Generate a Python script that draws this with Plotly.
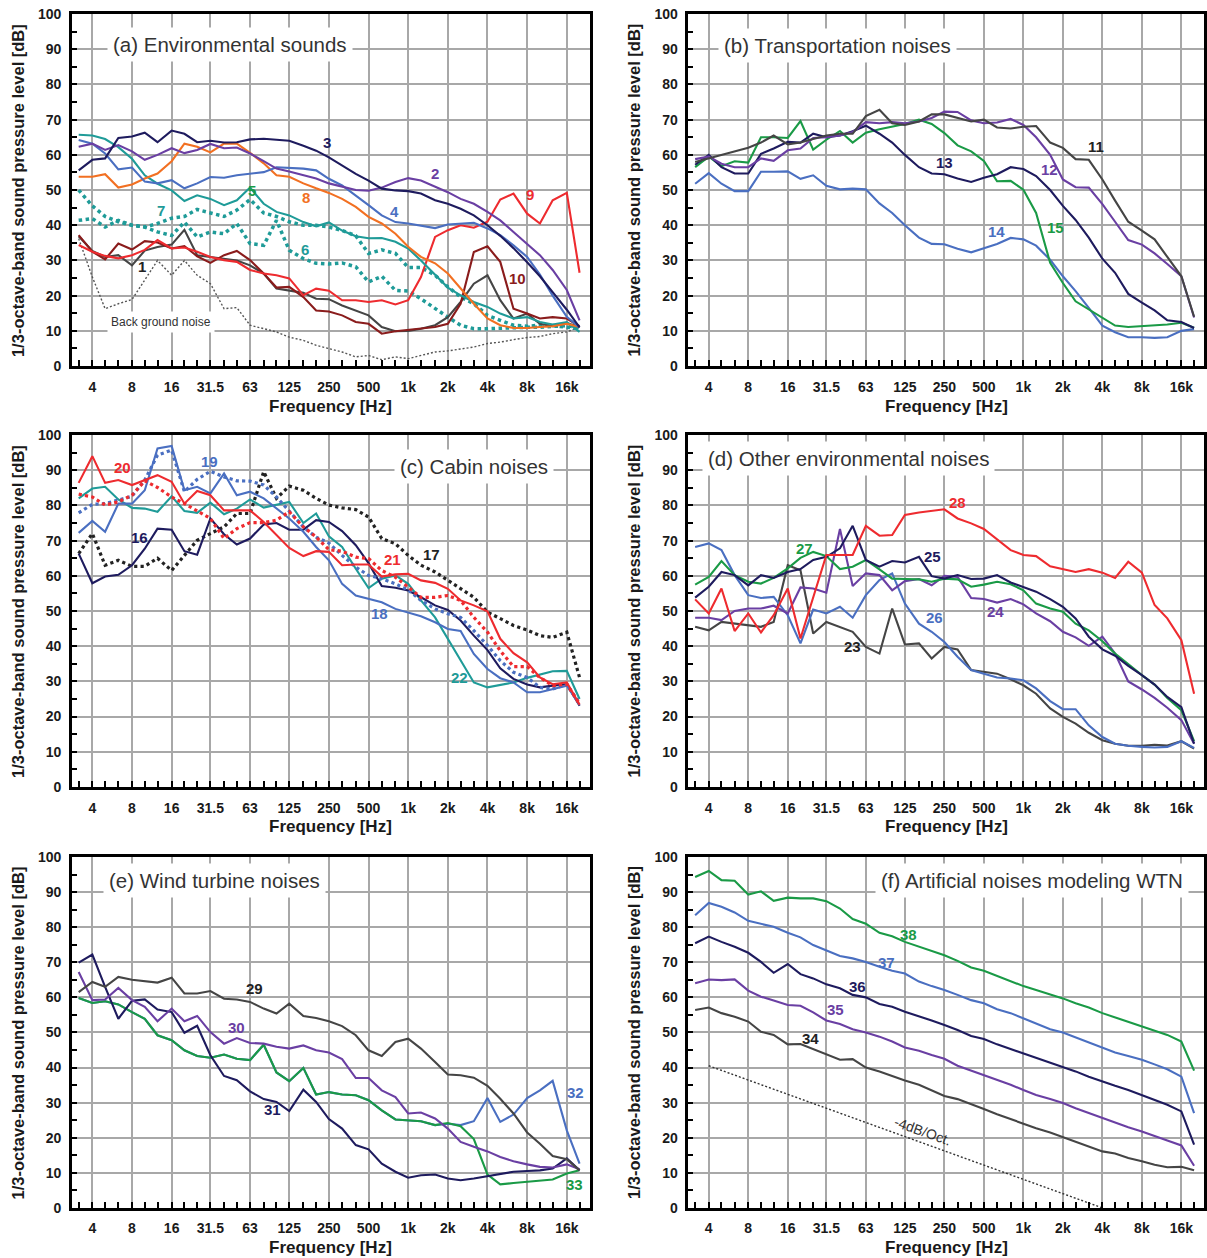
import numpy as np
import plotly.graph_objects as go

# ---------------- data ----------------
FREQ = [3.15, 4, 5, 6.3, 8, 10, 12.5, 16, 20, 25, 31.5, 40, 50, 63, 80, 100, 125, 160, 200, 250,
        315, 400, 500, 630, 800, 1000, 1250, 1600, 2000, 2500, 3150, 4000, 5000, 6300, 8000,
        10000, 12500, 16000, 20000]
TICK_VALS = [4, 8, 16, 31.5, 63, 125, 250, 500, 1000, 2000, 4000, 8000, 16000]
TICK_TEXT = ['4', '8', '16', '31.5', '63', '125', '250', '500', '1k', '2k', '4k', '8k', '16k']

# (a) Environmental sounds
BG = [36.2, 25.3, 16.3, 17.7, 18.9, 24.4, 30, 25.8, 30, 25.8, 23.4, 16.3, 16.6, 11.6, 10.6, 9.7, 8.2, 7.3, 5.9, 4.9,
      4, 2.6, 3, 1.8, 2.6, 2.1, 3, 4, 4.3, 4.9, 5.4, 6.4, 6.8, 7.5, 8.1, 8.4, 9.2, 9.7, 11.1]
S01 = [36.9, 32.7, 31, 31.5, 28.6, 32.8, 33.8, 34.5, 38.7, 31.5, 31, 30.5, 30, 28.6, 26.3, 22, 21.5, 20.8, 19.1, 19,
       17.2, 15.8, 14.4, 11.1, 9.9, 10, 10.6, 11.6, 13.9, 18.2, 23.4, 25.8, 18.7, 13.5, 14.9, 12, 11.3, 12.2, 11.1]
S02 = [62.3, 63.2, 61.4, 62.8, 61, 58.6, 60, 61.9, 60.5, 61.4, 63.1, 61.9, 62.1, 60.4, 58.2, 56.1, 55.3, 54.3, 53.3, 51.9,
       51, 50, 49.8, 50.7, 52.3, 53.4, 52.7, 51, 49.4, 47.5, 46.1, 43.8, 41.4, 38.1, 34.8, 31.5, 27.3, 21.6, 13]
S03 = [55.6, 58.6, 59, 64.8, 65.2, 66.3, 63.6, 66.9, 66, 63.6, 64, 63.5, 63.6, 64.4, 64.6, 64.4, 64, 62.6, 61.2, 59.3,
       57, 54.6, 52.7, 50.4, 49.9, 49.7, 49, 47.1, 46.1, 44.7, 42.8, 40, 37, 33.5, 29.5, 25.5, 21, 16, 11]
S04 = [64.2, 63.2, 60.4, 55.9, 56.4, 52.4, 51.9, 52.8, 50.5, 51.9, 53.7, 53.5, 54.2, 54.7, 55.1, 56.5, 56.3, 56.1, 55.6, 53.2,
       51.3, 48.5, 45.7, 42.8, 40.9, 40.5, 39.8, 39.2, 40.2, 40.5, 40.7, 39.1, 37.2, 34.3, 31, 26, 20, 14, 11]
S05 = [65.7, 65.5, 64.5, 62.2, 58.9, 54.2, 51.8, 49.9, 46.9, 48.5, 47.5, 45.7, 47.1, 50.7, 46.1, 43.8, 42.8, 40.9, 39.7, 40.8,
       38.5, 36.9, 36.3, 36.4, 35.3, 33.4, 30, 25.8, 22.3, 20.1, 18.2, 16.8, 14.9, 13.5, 13.9, 12.5, 11.8, 12.5, 9.7]
S06 = [41.4, 41.9, 39.5, 41.4, 40, 39.5, 38.1, 37.1, 40.9, 36.7, 38.1, 37.6, 40.5, 34.8, 34.3, 41.4, 32.9, 30.5, 29.2, 29,
       29.3, 28.2, 23.9, 25.5, 21.5, 21.3, 19.1, 16.3, 13.9, 11.6, 10.6, 10.6, 10.8, 10.8, 11, 11, 11.3, 11.5, 10.8]
S07 = [50, 45.5, 42.5, 41, 40, 39.5, 40.5, 42, 42.5, 44.5, 43.5, 42.5, 44.3, 47.3, 43.5, 42.5, 41, 40, 40, 39.5,
       38.5, 37, 32, 33, 32, 28, 28, 25.8, 22.5, 19.6, 17.7, 14.4, 13, 11.6, 11.3, 11.6, 11.5, 11, 10.6]
S08 = [53.8, 53.8, 54.5, 50.7, 51.6, 53.3, 54.7, 58.2, 63.2, 62.3, 60.7, 63.2, 63.2, 60.6, 57.6, 54.2, 53.8, 51.9, 50.5, 49.2,
       47.5, 45.2, 42.4, 40.5, 37.6, 33.9, 31, 29.2, 26.3, 22, 17.7, 13.5, 11.6, 10.8, 10.8, 11.1, 11.3, 12, 11.1]
S09 = [34.4, 32.5, 31.3, 30.6, 31.5, 33, 35.8, 33.4, 33.7, 32.5, 31, 30.1, 29.6, 27.3, 26.3, 25.8, 24.9, 20.1, 22, 21.4,
       18.7, 18.7, 18.2, 18.7, 17.5, 18.7, 25.3, 36.7, 38.6, 40, 39.3, 41, 47.3, 49, 43.3, 40.5, 47.1, 49.2, 26.5]
S10 = [37.2, 32.5, 30.3, 34.8, 33.1, 35.5, 35.1, 33.4, 34.1, 31.2, 29.3, 31.5, 32.7, 30.1, 26.3, 22.3, 22.5, 19.6, 15.8, 15.5,
       14.4, 12.5, 12, 9.2, 9.9, 10.3, 10.6, 11.1, 12, 17.7, 32.4, 34, 29.6, 16.3, 14.9, 13.5, 13.9, 13.5, 11.3]

# (b) Transportation noises
S11 = [58, 59, 60, 61, 62, 63.5, 65.5, 63, 63.5, 64.5, 65.5, 66, 66, 71, 72.8, 69, 68.5, 69.5, 71.5, 71.5,
       70.5, 69.5, 70, 67.8, 67.5, 68, 68.2, 63.5, 62, 58.8, 58.6, 53, 47, 41, 38.5, 36, 31, 25.5, 14]
S12 = [58.8, 59.5, 57.5, 56.5, 56.5, 59, 58.3, 61.3, 61.8, 64.8, 65, 65.5, 66.5, 69.3, 69, 69.3, 69, 69.5, 70.5, 72.3,
       72.2, 69.8, 69, 69.2, 70.2, 68.5, 65, 60, 53, 50.8, 50.7, 46, 41, 35.8, 34.5, 32, 29, 25.5, 13.8]
S13 = [57.2, 60, 56.5, 54.7, 54.7, 60.3, 61.8, 63.7, 63.5, 66, 65, 65.5, 66.7, 68.3, 66, 63.5, 60, 56.5, 54.7, 54.5,
       53.3, 52.3, 53.5, 54.5, 56.5, 56, 54, 50, 45.5, 41.5, 36.5, 30.5, 26.5, 20.5, 18, 15.8, 13, 12.5, 10.8]
S14 = [51.8, 54.8, 51.8, 49.7, 49.7, 55.2, 55.2, 55.3, 53.2, 54.2, 51.2, 50.2, 50.4, 50.2, 46.2, 43.5, 40, 36.5, 34.7, 34.6,
       33.3, 32.3, 33.5, 34.7, 36.4, 36, 34.2, 30.2, 25.5, 21.3, 16.5, 11.5, 9.6, 8.2, 8.2, 8, 8.2, 10, 10.5]
S15 = [56.5, 59.5, 56.8, 58.2, 57.8, 65, 65, 64.8, 69.6, 61.5, 64.3, 66.8, 63.5, 66.3, 67.3, 68, 68.8, 70, 68.8, 66.2,
       62.7, 61, 58.3, 52.5, 52.6, 50.1, 43.5, 29.3, 23.6, 18.4, 16.1, 13.7, 11.5, 11.1, 11.3, 11.5, 11.8, 12.3, 10.9]

# (c) Cabin noises
S16 = [66.3, 57.9, 59.8, 60.3, 63, 67.7, 73.4, 73.1, 67, 66, 76.3, 71.8, 68.9, 70.6, 74.6, 75, 73.1, 73.1, 75.8, 75.3,
       72.7, 68.7, 63.6, 57.1, 56.6, 55.8, 53.9, 51.6, 50.3, 47.3, 43, 38.9, 33.7, 30.7, 29.1, 28.3, 28.8, 29.2, 23.1]
S17 = [66.3, 72, 63, 64.4, 62.7, 62.7, 65, 61.5, 65.8, 70.1, 72, 73.9, 77.7, 77.7, 89.6, 82, 85.5, 84.3, 82, 80.1,
       79.3, 78.8, 76.7, 70.6, 69.1, 65.8, 63, 61.1, 58.7, 56.3, 53.9, 49.7, 47.8, 45.9, 44.6, 43, 42.5, 44, 31.1]
S18 = [72.2, 75.6, 72.5, 80.5, 80.5, 84.3, 96.2, 96.9, 84.3, 85.3, 83.4, 89.1, 82.9, 83.9, 82, 79.1, 76.3, 72.5, 68.2, 64.4,
       57.7, 54.4, 53.5, 52.5, 50.6, 49.5, 48.5, 46.8, 44.9, 44.3, 37.8, 33.5, 30.9, 29.7, 26.9, 26.9, 27.8, 28.8, 23.3]
S19 = [77.9, 80.3, 80.5, 81.5, 82.6, 87.2, 94.3, 95.7, 83.9, 87.4, 89.7, 88.1, 87, 86.9, 85.8, 82.4, 78.2, 73.9, 71, 69.3,
       65.8, 62.5, 60.1, 59.2, 57.7, 56, 53, 50.6, 49.2, 48.2, 44.4, 40.2, 35.9, 32.6, 31.1, 28.3, 27.8, 29.2, 23.7]
S20 = [86.4, 94, 86.4, 87.2, 85.8, 87.2, 88.6, 86.7, 80.5, 84.1, 82.9, 78.6, 78.6, 78.6, 75.3, 71.5, 67.9, 65.6, 67, 66.8,
       63, 63.2, 63.2, 59.8, 60.4, 60.6, 58.7, 58, 56.3, 53, 51.6, 49.9, 42.1, 38, 35.4, 31.1, 29.2, 29.7, 23.4]
S21 = [83.2, 82.4, 80.1, 81, 82.9, 87, 85.1, 82.4, 80.5, 78.4, 76.3, 70.6, 73.4, 75.1, 75.1, 75.8, 78.2, 73.9, 71, 67.4,
       67, 65.3, 64.9, 61.5, 59.6, 56.8, 53.9, 53.9, 54.4, 53, 48.2, 44, 38.7, 34.2, 34.2, 31.1, 28.8, 29.2, 23.6]
S22 = [82, 84.8, 85.3, 81.7, 79.3, 79.1, 78.2, 82.6, 78.4, 77.9, 80.8, 77.5, 79.1, 81.7, 79.4, 80.1, 81, 75, 77.7, 71.2,
       68.2, 62, 56.5, 59.2, 60.1, 57.7, 53, 48.2, 42.1, 35.9, 29.7, 28.3, 29, 29.7, 31, 31.9, 32.9, 33, 25]

# (d) Other environmental noises
S23 = [45.5, 44.5, 46.9, 46.4, 46, 45.5, 46.9, 63, 61.6, 43.6, 46.9, 45.5, 44.1, 39.8, 37.9, 50.7, 40.5, 40.8, 36.5, 39.8,
       39.1, 33.2, 32.7, 32.2, 30.6, 28.9, 26.5, 22.3, 19.9, 18, 15.4, 13.3, 12.3, 11.7, 11.7, 12, 11.8, 13, 10.9]
S24 = [48.1, 48.1, 47.4, 50, 50.7, 50.7, 51.5, 49.3, 56.7, 56.4, 55.2, 73.3, 57.1, 60.7, 60.2, 55.9, 58.5, 59.1, 57.3, 60,
       59.7, 53.7, 53.4, 52.4, 53.4, 51.9, 49.3, 47.1, 44.1, 42.5, 40.1, 42.7, 37.9, 30, 27.7, 25.3, 22.5, 19, 12.3]
S25 = [53.8, 56.9, 61.1, 60.2, 57.3, 60.2, 59.4, 61.1, 61.9, 64.5, 65.4, 67.8, 74.2, 64.5, 62.6, 64.2, 63.8, 65.4, 59.9, 59.2,
       60.2, 59.1, 59.2, 60.2, 58.1, 56.9, 55.5, 53.4, 51.2, 47.9, 42.7, 39.1, 37.3, 34.4, 31.8, 29.1, 25.6, 22.7, 12.3]
S26 = [68.2, 69.2, 67.3, 60.2, 54.5, 53.7, 54, 48.8, 40.8, 50.4, 49.3, 51.2, 48.1, 54.5, 58.8, 60.7, 52.1, 46.4, 44.1, 41.2,
       37, 33.2, 32.2, 31.1, 30.8, 30.3, 28, 24.4, 22.1, 22.1, 17.5, 14.2, 12.3, 11.7, 11.4, 11.2, 11.4, 13, 11.1]
S27 = [57.5, 59.7, 64.2, 60.2, 58.3, 57.8, 59.4, 62.1, 65.1, 66.8, 65.6, 61.9, 62.6, 64.5, 61.8, 59.2, 59.1, 59, 58.3, 59.2,
       59, 56.9, 57.5, 58.3, 57.6, 55.9, 52.1, 50.7, 49.8, 46.4, 44.5, 41.4, 37.9, 34.8, 31.8, 29.1, 25.3, 21.8, 13]
S28 = [53.3, 49.3, 56.4, 44.3, 49.3, 43.9, 48.8, 56.4, 42.2, 54, 65.9, 65.9, 65.9, 74.2, 71.4, 71.6, 77.3, 78, 78.5, 78.9,
       76.3, 74.9, 73.3, 70.3, 67.3, 65.9, 65.6, 62.7, 61.8, 61.1, 61.9, 60.9, 59.4, 64, 60.9, 51.7, 47.9, 41.7, 26.5]

# (e) Wind turbine noises
S29 = [61.5, 64.4, 63, 65.8, 65, 64.6, 64.2, 65.6, 61.1, 61.1, 61.8, 59.6, 59.4, 58.7, 56.8, 55.4, 58.2, 54.7, 54.1, 53.2,
       51.8, 49.2, 44.9, 43.3, 47.3, 48.2, 45.4, 41.6, 38, 37.8, 37.1, 34.8, 31.1, 26.9, 21.5, 18.3, 14.8, 13.9, 10.7]
S30 = [67.2, 59.2, 59.4, 62.7, 59.2, 57.3, 53.2, 56.8, 53.2, 54.7, 50.1, 46.8, 48.4, 47, 46.8, 45.9, 45.4, 46.3, 44.9, 44.3,
       42.4, 37, 37, 33.5, 31.6, 26.9, 27.2, 25.5, 22.6, 18.8, 17.4, 16.1, 14.5, 13.3, 12.4, 11.7, 11.5, 12.4, 11]
S31 = [69.9, 72.2, 63, 53.9, 59, 59.4, 56.5, 55.8, 49.9, 51.9, 43.5, 37.6, 36.4, 33.2, 31, 30.2, 27.6, 33.7, 30.2, 25.3,
       22.6, 17.9, 16.7, 12.6, 10.3, 8.6, 9.3, 9.5, 8.4, 7.9, 8.4, 9.1, 9.6, 10.3, 10.5, 10.7, 11.2, 14.1, 10.7]
S32 = [59.8, 58.4, 58.9, 58, 55.8, 53.9, 49.2, 47.8, 44.9, 43.3, 42.8, 43.7, 42.5, 42.1, 46.5, 38.6, 36.1, 39.9, 32.3, 33,
       32.3, 32.1, 30.7, 27.8, 25.2, 24.9, 24.7, 23.6, 24, 23.6, 24.7, 31.3, 24.5, 26.6, 31.3, 33.5, 36.2, 22.1, 12.6]
S33 = [59.8, 58.4, 58.9, 58, 55.8, 53.9, 49.2, 47.8, 44.9, 43.3, 42.8, 43.7, 42.5, 42.1, 46.5, 38.6, 36.1, 39.9, 32.3, 33,
       32.3, 32.1, 30.7, 27.8, 25.2, 24.9, 24.7, 23.6, 24.2, 23.3, 19.6, 9.5, 6.7, 7.1, 7.4, 7.7, 8.1, 9.8, 10.7]

# (f) Artificial noises modeling WTN
S34 = [56.4, 57.1, 55.5, 54.5, 53.1, 50.2, 49.3, 46.6, 46.7, 45.2, 43.6, 42.2, 42.4, 40, 38.9, 37.6, 36.3, 35.1, 33.5, 31.9,
       31, 29.6, 28.2, 26.7, 25.3, 24.2, 22.7, 21.5, 20.2, 18.8, 17.5, 16.1, 15.5, 14.2, 13.3, 12.3, 11.6, 11.7, 10.7]
S35 = [64, 65.1, 64.9, 65.1, 61.9, 60.2, 59.1, 57.8, 57.6, 55.7, 53.4, 52.4, 50.9, 50, 48.8, 47.4, 45.7, 44.8, 43.6, 42.5,
       40.5, 39.1, 37.9, 36.5, 35.1, 33.6, 32.2, 31, 29.9, 28.4, 27, 25.6, 24.4, 23, 21.8, 20.6, 19.2, 17.8, 12]
S36 = [75.4, 77.3, 75.8, 74.4, 72.7, 70.1, 67, 69.5, 66.6, 65.4, 63.7, 62.6, 60.7, 60, 58.1, 57.3, 55.9, 54.7, 53.4, 52.1,
       50.7, 49, 48.1, 46.6, 45.3, 44.1, 42.7, 41.4, 40.3, 38.9, 37.4, 36, 34.8, 33.6, 32.2, 30.8, 29.4, 27.5, 18]
S37 = [83.4, 86.9, 85.8, 84.2, 81.8, 80.9, 80.1, 78.4, 77.1, 74.9, 73.3, 71.8, 71.1, 70.1, 68.7, 67.6, 66.8, 64.5, 63.2, 62.1,
       60.7, 59.2, 58.3, 56.6, 55.5, 54, 52.6, 50.9, 50, 48.6, 47.2, 45.7, 44.3, 43.3, 42.2, 40.9, 39.5, 37.4, 27]
S38 = [94.3, 96, 93.4, 93.2, 89.3, 90.2, 87.5, 88.4, 88.2, 88.2, 87.4, 85.3, 82.3, 81, 78.4, 77.4, 75.8, 74.4, 73.3, 72,
       70.4, 68.5, 67.6, 66.1, 64.5, 63.2, 62.1, 60.9, 59.7, 58.3, 57.1, 55.5, 54.3, 53.1, 51.7, 50.7, 49.3, 47.4, 39.1]
REF_F = [4, 4000]
REF_DB = [40.5, 0]

# ---------------- styles ----------------
FONT = "Liberation Sans, Arial, Helvetica, sans-serif"
NAVY = "#1e1b5e"
PURPLE = "#6a3fa3"
BLUE = "#4a6fc1"
TEAL = "#1f9b98"
GREEN = "#1a9a46"
ORANGE = "#f27022"
RED = "#ee2b2f"
DGRAY = "#454545"
DRED = "#8a1c1c"
BLK = "#222222"

W, H = 1207, 1258
COLS_PX = [(72, 590), (689, 1205)]
ROWS_PX = [(14, 366), (435, 787), (857, 1208)]


def vy(y):
    # compensate the vertical offset/squeeze observed in the rendered page
    return (y - 7.9) / 0.98744


SOLID = dict(width=2.1)
DOT = dict(width=3.5, dash="dot")

panels = [
    dict(title="(a) Environmental sounds", tx=0.067, ty=0.915, tanchor="left",
         series=[(BG, "#555555", dict(width=1.4, dash="2px,2px")),
                 (S07, TEAL, DOT), (S06, TEAL, DOT),
                 (S01, DGRAY, SOLID), (S10, DRED, SOLID), (S09, RED, SOLID),
                 (S05, TEAL, SOLID), (S08, ORANGE, SOLID), (S04, BLUE, SOLID),
                 (S02, PURPLE, SOLID), (S03, NAVY, SOLID)],
         labels=[("3", 240, 63.6, NAVY), ("2", 1610, 54.8, PURPLE), ("8", 167, 48, ORANGE),
                 ("4", 782, 43.8, BLUE), ("5", 65.6, 50, GREEN), ("7", 13.2, 44.3, TEAL),
                 ("6", 164, 33, TEAL), ("1", 9.6, 28.4, BLK), ("9", 8400, 48.6, RED),
                 ("10", 6800, 25, DRED)]),
    dict(title="(b) Transportation noises", tx=0.058, ty=0.912, tanchor="left",
         series=[(S14, BLUE, SOLID), (S15, GREEN, SOLID), (S13, NAVY, SOLID),
                 (S12, PURPLE, SOLID), (S11, DGRAY, SOLID)],
         labels=[("11", 3565, 62.4, BLK), ("12", 1584, 55.8, PURPLE), ("13", 252, 57.7, NAVY),
                 ("14", 626, 38.1, BLUE), ("15", 1748, 39.4, GREEN)]),
    dict(title="(c) Cabin noises", tx=0.931, ty=0.91, tanchor="right",
         series=[(S17, BLK, dict(width=3.2, dash="dot")), (S22, TEAL, SOLID), (S16, NAVY, SOLID),
                 (S18, BLUE, SOLID), (S19, BLUE, dict(width=3.2, dash="dot")),
                 (S21, RED, dict(width=3.2, dash="dot")), (S20, RED, SOLID)],
         labels=[("20", 6.8, 90.8, RED), ("19", 31.2, 92.4, BLUE), ("16", 9.1, 70.8, NAVY),
                 ("18", 605, 49.4, BLUE), ("21", 755, 64.6, RED), ("17", 1500, 66, BLK),
                 ("22", 2460, 31.1, TEAL)]),
    dict(title="(d) Other environmental noises", tx=0.027, ty=0.932, tanchor="left",
         series=[(S23, DGRAY, SOLID), (S26, BLUE, SOLID), (S24, PURPLE, SOLID),
                 (S27, GREEN, SOLID), (S25, NAVY, SOLID), (S28, RED, SOLID)],
         labels=[("28", 315, 80.8, RED), ("25", 202, 65.6, NAVY), ("27", 21.5, 67.8, GREEN),
                 ("26", 212, 48.2, BLUE), ("24", 613, 50, PURPLE), ("23", 50, 39.8, BLK)]),
    dict(title="(e) Wind turbine noises", tx=0.0595, ty=0.932, tanchor="left",
         series=[(S32, BLUE, SOLID), (S33, GREEN, SOLID), (S31, NAVY, SOLID),
                 (S30, PURPLE, SOLID), (S29, DGRAY, SOLID)],
         labels=[("29", 68.6, 62.5, BLK), ("30", 50, 51.3, PURPLE), ("31", 92.5, 28.1, NAVY),
                 ("32", 18600, 33, BLUE), ("33", 18300, 6.6, GREEN)]),
    dict(title="(f) Artificial noises modeling WTN", tx=0.97, ty=0.934, tanchor="right",
         series=[(REF_DB, "#333333", dict(width=1.4, dash="2px,2px")),
                 (S34, DGRAY, SOLID), (S35, PURPLE, SOLID), (S36, NAVY, SOLID),
                 (S37, BLUE, SOLID), (S38, GREEN, SOLID)],
         labels=[("38", 134, 78, GREEN), ("37", 90, 69.9, BLUE), ("36", 54, 63.2, NAVY),
                 ("35", 37.3, 56.4, PURPLE), ("34", 24, 48.3, BLK)]),
]

fig = go.Figure()
annotations = []
layout = dict(width=W, height=H, margin=dict(l=0, r=0, t=0, b=0),
              paper_bgcolor="white", plot_bgcolor="white", showlegend=False,
              font=dict(family=FONT))

for i, p in enumerate(panels):
    n = i + 1
    col, row = i % 2, i // 2
    x0, x1 = COLS_PX[col]
    y0, y1 = ROWS_PX[row]
    xs = "" if n == 1 else str(n)
    xa, ya = "x" + xs, "y" + xs
    layout["xaxis" + xs] = dict(
        domain=[x0 / W, x1 / W], anchor=ya, type="log",
        range=[np.log10(2.8), np.log10(23800)],
        tickmode="array", tickvals=TICK_VALS, ticktext=TICK_TEXT,
        ticks="inside", ticklen=6, tickwidth=2, tickcolor="black",
        showgrid=True, gridcolor="#a8a8a8", gridwidth=1.5,
        minor=dict(tickmode="array", tickvals=FREQ, ticks="inside", ticklen=6,
                   tickwidth=2, tickcolor="black", showgrid=False),
        showline=True, mirror=True, linecolor="black", linewidth=2.5, zeroline=False,
        tickfont=dict(family=FONT, size=14, color="#1a1a1a", weight="bold"),
        ticklabelstandoff=6, fixedrange=True)
    layout["yaxis" + xs] = dict(
        domain=[1 - vy(y1) / H, 1 - vy(y0) / H], anchor=xa, range=[0, 100],
        tickmode="linear", tick0=0, dtick=10,
        ticks="inside", ticklen=5, tickwidth=2, tickcolor="black",
        showgrid=True, gridcolor="#a8a8a8", gridwidth=1.5,
        minor=dict(dtick=5, ticks="inside", ticklen=5, tickwidth=2,
                   tickcolor="black", showgrid=False),
        showline=True, mirror=True, linecolor="black", linewidth=2.5, zeroline=False,
        tickfont=dict(family=FONT, size=14, color="#1a1a1a", weight="bold"),
        ticklabelstandoff=5, fixedrange=True)

    for vals, color, style in p["series"]:
        xv = REF_F if vals is REF_DB else FREQ
        fig.add_trace(go.Scatter(x=xv, y=vals, mode="lines", xaxis=xa, yaxis=ya,
                                 line=dict(color=color, **style), hoverinfo="skip"))

    for txt, f, db, color in p["labels"]:
        annotations.append(dict(x=np.log10(f), y=db, xref=xa, yref=ya, text=txt,
                                showarrow=False,
                                font=dict(family=FONT, size=15, color=color, weight="bold")))

    # panel title
    annotations.append(dict(x=p["tx"], y=p["ty"], xref=xa + " domain", yref=ya + " domain",
                            text=p["title"], showarrow=False, xanchor=p["tanchor"],
                            yanchor="middle", bgcolor="white", borderpad=5,
                            font=dict(family=FONT, size=20.5, color="#333333")))
    # axis titles
    annotations.append(dict(x=(x0 + x1) / 2 / W, y=1 - vy(y1 + 40) / H, xref="paper", yref="paper",
                            text="Frequency [Hz]", showarrow=False, xanchor="center",
                            yanchor="middle",
                            font=dict(family=FONT, size=17, color="#1a1a1a", weight="bold")))
    annotations.append(dict(x=(x0 - 54) / W, y=1 - vy((y0 + y1) / 2) / H, xref="paper", yref="paper",
                            text="1/3-octave-band sound pressure level [dB]", showarrow=False,
                            textangle=-90, xanchor="center", yanchor="middle",
                            font=dict(family=FONT, size=16.5, color="#1a1a1a", weight="bold")))

# extra texts
annotations.append(dict(x=np.log10(13.2), y=12.5, xref="x", yref="y", text="Back ground noise",
                        showarrow=False, bgcolor="white", borderpad=3,
                        font=dict(family=FONT, size=12, color="#333333")))
annotations.append(dict(x=np.log10(170), y=21.8, xref="x6", yref="y6", text="-4dB/Oct.",
                        showarrow=False, textangle=19.6,
                        font=dict(family=FONT, size=14, color="#333333")))

layout["annotations"] = annotations
fig.update_layout(**layout)
fig.write_html("out.html")
